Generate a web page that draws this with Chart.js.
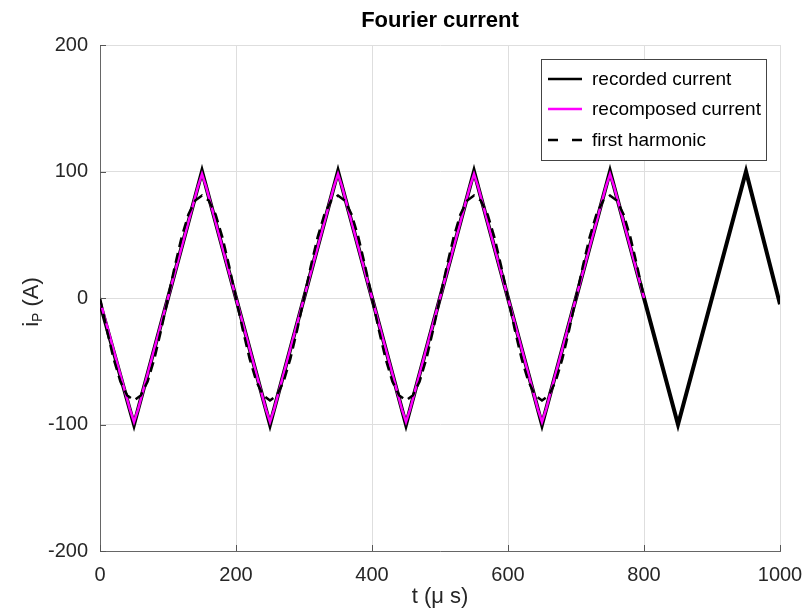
<!DOCTYPE html>
<html>
<head>
<meta charset="utf-8">
<script src="https://cdn.jsdelivr.net/npm/chart.js@4.4.1/dist/chart.umd.min.js"></script>
<style>
  body { margin: 0; background: #fff; }
  canvas { display: block; }
</style>
</head>
<body>
<canvas id="monGraphique" width="805" height="615"></canvas>
<script>
// Recorded current (triangle wave vertices)
const tRecorded = [0, 50, 150, 250, 350, 450, 550, 650, 750, 850, 950, 1000];
const iRecorded = [-4, -100, 100, -100, 100, -100, 100, -100, 100, -100, 100, -5];

// Recomposed current (slightly rounded peaks)
const tRecomposed = [0, 44, 50, 56, 144, 150, 156, 244, 250, 256, 344, 350, 356,
  444, 450, 456, 544, 550, 556, 644, 650, 656, 744, 750, 756, 800];
const iRecomposed = [-2, -88, -98, -88, 88, 98, 88, -88, -98, -88, 88, 98, 88,
  -88, -98, -88, 88, 98, 88, -88, -98, -88, 88, 98, 88, 0];

// First harmonic, read every 10 us
const tHarmonic = [0, 10, 20, 30, 40, 50, 60, 70, 80, 90, 100, 110, 120, 130, 140, 150, 160, 170, 180, 190,
  200, 210, 220, 230, 240, 250, 260, 270, 280, 290, 300, 310, 320, 330, 340, 350, 360, 370, 380, 390,
  400, 410, 420, 430, 440, 450, 460, 470, 480, 490, 500, 510, 520, 530, 540, 550, 560, 570, 580, 590,
  600, 610, 620, 630, 640, 650, 660, 670, 680, 690, 700, 710, 720, 730, 740, 750, 760, 770, 780, 790, 800];
const iHarmonic = [0, -25, -48, -66, -77, -81, -77, -66, -48, -25, 0, 25, 48, 66, 77, 81, 77, 66, 48, 25,
  0, -25, -48, -66, -77, -81, -77, -66, -48, -25, 0, 25, 48, 66, 77, 81, 77, 66, 48, 25,
  0, -25, -48, -66, -77, -81, -77, -66, -48, -25, 0, 25, 48, 66, 77, 81, 77, 66, 48, 25,
  0, -25, -48, -66, -77, -81, -77, -66, -48, -25, 0, 25, 48, 66, 77, 81, 77, 66, 48, 25, 0];

// Axis ticks
const xTicks = [0, 200, 400, 600, 800, 1000];
const yTicks = [-200, -100, 0, 100, 200];

const titre = 'Fourier current';
const xTitle = 't (\u03bc s)';

function toPoints(xs, ys) {
  return xs.map((x, i) => ({ x: x, y: ys[i] }));
}

const police = '"Liberation Sans", Arial, Helvetica, sans-serif';
Chart.defaults.font.family = police;
Chart.defaults.color = '#262626';

// Title, y label (with subscript), inward ticks and legend box
const decor = {
  id: 'decor',
  afterDraw(chart) {
    const c = chart.ctx;
    const a = chart.chartArea;
    c.save();

    // small inward tick marks
    c.strokeStyle = '#555';
    c.lineWidth = 1;
    yTicks.forEach(v => {
      const y = Math.round(chart.scales.y.getPixelForValue(v)) + 0.5;
      c.beginPath(); c.moveTo(a.left, y); c.lineTo(a.left + 6, y); c.stroke();
    });
    xTicks.forEach(v => {
      const x = Math.round(chart.scales.x.getPixelForValue(v)) + 0.5;
      c.beginPath(); c.moveTo(x, a.bottom); c.lineTo(x, a.bottom - 6); c.stroke();
    });

    // title
    c.fillStyle = '#000';
    c.font = 'bold 22px ' + police;
    c.textAlign = 'center';
    c.textBaseline = 'middle';
    c.fillText(titre, (a.left + a.right) / 2, 21);

    // y label : i_P (A)
    c.translate(30, (a.top + a.bottom) / 2 + 4);
    c.rotate(-Math.PI / 2);
    c.fillStyle = '#262626';
    c.textAlign = 'left';
    c.textBaseline = 'alphabetic';
    const big = '22px ' + police, small = '14px ' + police;
    c.font = big; const w1 = c.measureText('i').width;
    c.font = small; const w2 = c.measureText('P').width;
    c.font = big; const w3 = c.measureText(' (A)').width;
    let x0 = -(w1 + w2 + w3) / 2;
    c.font = big; c.fillText('i', x0, 8);
    c.font = small; c.fillText('P', x0 + w1, 12);
    c.font = big; c.fillText(' (A)', x0 + w1 + w2, 8);
    c.setTransform(1, 0, 0, 1, 0, 0);

    // legend box
    const bx = a.right - 14 - 225, by = a.top + 14, bw = 225, bh = 101;
    c.fillStyle = '#fff';
    c.fillRect(bx, by, bw, bh);
    c.strokeStyle = '#444';
    c.lineWidth = 1;
    c.strokeRect(bx + 0.5, by + 0.5, bw, bh);
    c.font = '19px ' + police;
    c.textBaseline = 'middle';
    c.textAlign = 'left';
    const rows = [20, 50, 81];
    chart.data.datasets.forEach((ds, i) => {
      const y = by + rows[i];
      c.strokeStyle = ds.borderColor;
      c.lineWidth = 2.5;
      c.setLineDash(ds.borderDash && ds.borderDash.length ? [10, 14] : []);
      c.beginPath(); c.moveTo(bx + 7, y); c.lineTo(bx + 41, y); c.stroke();
      c.setLineDash([]);
      c.fillStyle = '#000';
      c.fillText(ds.label, bx + 51, y + 1);
    });
    c.restore();
  }
};

const ctx = document.getElementById('monGraphique').getContext('2d');
const myChart = new Chart(ctx, {
  type: 'line',
  data: {
    datasets: [
      {
        label: 'recorded current',
        data: toPoints(tRecorded, iRecorded),
        borderColor: '#000000',
        borderWidth: 4,
        pointRadius: 0,
        order: 3
      },
      {
        label: 'recomposed current',
        data: toPoints(tRecomposed, iRecomposed),
        borderColor: '#ff00ff',
        borderWidth: 2.5,
        pointRadius: 0,
        order: 2
      },
      {
        label: 'first harmonic',
        data: toPoints(tHarmonic, iHarmonic),
        borderColor: '#000000',
        borderWidth: 2.5,
        borderDash: [10, 6],
        pointRadius: 0,
        order: 1
      }
    ]
  },
  options: {
    responsive: false,
    animation: false,
    devicePixelRatio: 1,
    layout: { padding: { top: 45, right: 25, bottom: 0, left: 0 } },
    plugins: {
      legend: { display: false },
      title: { display: false },
      tooltip: { enabled: false }
    },
    scales: {
      x: {
        type: 'linear',
        min: 0,
        max: 1000,
        afterBuildTicks: s => { s.ticks = xTicks.map(v => ({ value: v })); },
        afterFit: s => { s.height = 64; s.paddingLeft = 0; s.paddingRight = 0; },
        ticks: { font: { size: 20 }, padding: 12, maxRotation: 0, callback: v => String(v) },
        grid: { color: '#dedede', drawTicks: false },
        border: { color: '#666', width: 1 },
        title: { display: true, text: xTitle, font: { size: 22 }, color: '#262626', padding: { top: 0, bottom: 5 } }
      },
      y: {
        type: 'linear',
        min: -200,
        max: 200,
        afterBuildTicks: s => { s.ticks = yTicks.map(v => ({ value: v })); },
        afterFit: s => { s.width = 100; s.paddingTop = 0; s.paddingBottom = 0; },
        ticks: { font: { size: 20 }, padding: 12, callback: v => String(v) },
        grid: { color: '#dedede', drawTicks: false },
        border: { color: '#666', width: 1 }
      }
    }
  },
  plugins: [decor]
});
</script>
</body>
</html>
